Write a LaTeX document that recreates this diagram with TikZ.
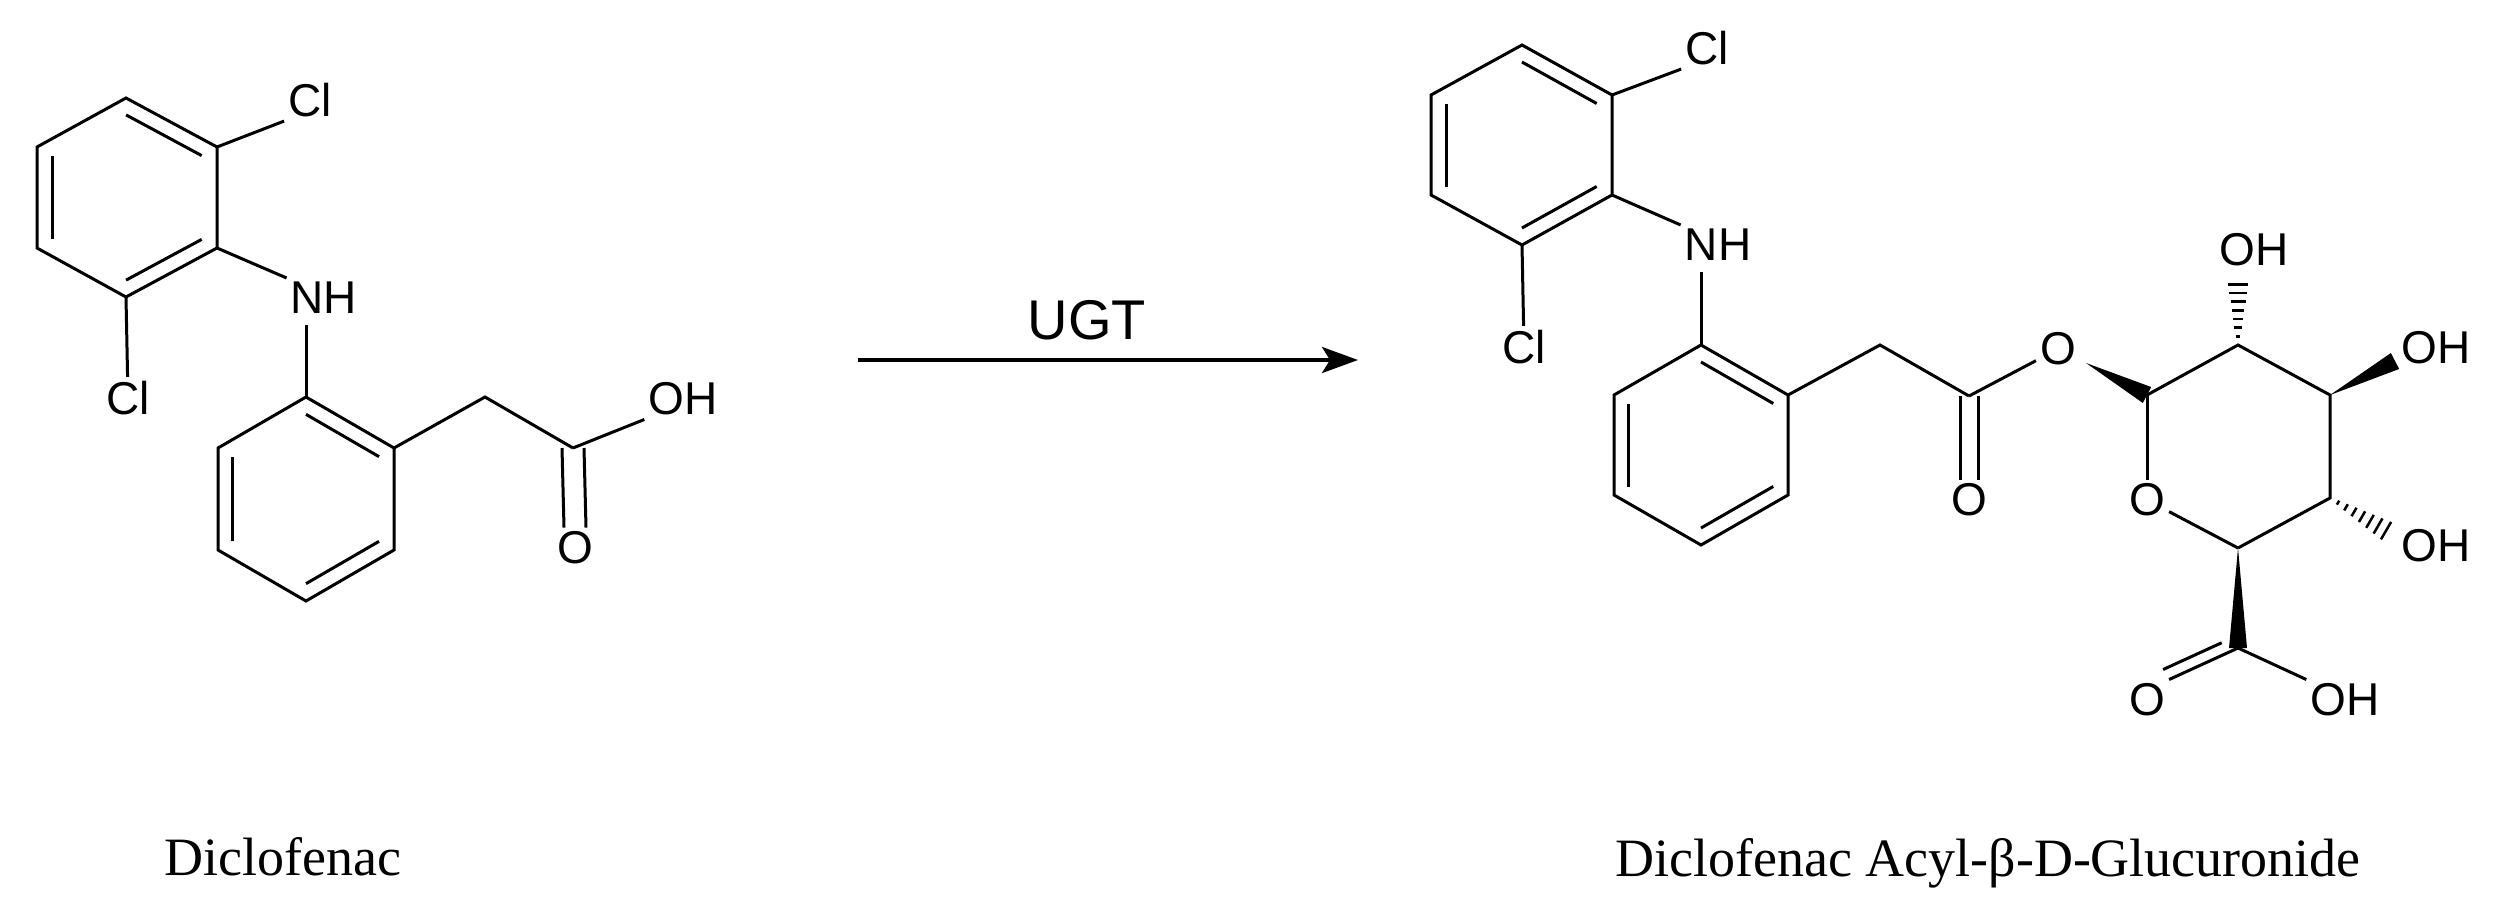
\documentclass[tikz,border=0pt]{standalone}
\usepackage{fontspec}
\setmainfont{Liberation Serif}
\newfontfamily\arialf{Liberation Sans}
\usetikzlibrary{calc,arrows.meta}
\tikzset{
  bond/.style={line width=3pt},
  atom/.style={font=\arialf\fontsize{46}{46}\selectfont, inner sep=4pt},
  captext/.style={font=\fontsize{54}{54}\selectfont, inner sep=0pt},
}
\newcommand{\inner}[3]{\draw[bond] ($(#1)!0.17!(#3)$) -- ($(#2)!0.17!(#3)$);}
\newcommand{\hashb}[2]{\foreach \i in {1,...,7}{\pgfmathsetmacro\hf{\i/7.5}\pgfmathsetmacro\hw{1+1.3*\i}\draw[line width=2.5pt] ($(#1)!\hf!(#2)$) coordinate (hp) ($(hp)!\hw pt!90:(#2)$) -- ($(hp)!\hw pt!-90:(#2)$);}}
\newcommand{\wedgeb}[2]{\fill (#1) -- ($(#2)!9pt!90:(#1)$) -- ($(#2)!9pt!-90:(#1)$) -- cycle;}
\begin{document}
\begin{tikzpicture}[x=1pt,y=-1pt]
\useasboundingbox (0,0) rectangle (2496,911);
% ---------- Diclofenac ----------
\coordinate (a1) at (126,98); \coordinate (a2) at (217,147); \coordinate (a3) at (217,248);
\coordinate (a4) at (126,297); \coordinate (a5) at (37,248); \coordinate (a6) at (37,147);
\coordinate (ac) at (126.7,197.5);
\draw[bond,line join=miter] (a1)--(a2)--(a3)--(a4)--(a5)--(a6)--cycle;
\inner{a1}{a2}{ac} \inner{a5}{a6}{ac} \inner{a3}{a4}{ac}
\node[atom] (cl1) at (310,100) {Cl};
\node[atom] (nh1) at (324,298) {NH};
\node[atom] (cl2) at (128,398) {Cl};
\draw[bond] (a2) -- (cl1.south west);
\draw[bond] (a3) -- (nh1.north west);
\draw[bond] (a4) -- (cl2);
\coordinate (b1) at (306,397); \coordinate (b2) at (394,448); \coordinate (b3) at (394,550);
\coordinate (b4) at (306,601); \coordinate (b5) at (218,550); \coordinate (b6) at (218,448);
\coordinate (bc) at (306,499);
\draw[bond] (306,325) -- (b1);
\draw[bond,line join=miter] (b1)--(b2)--(b3)--(b4)--(b5)--(b6)--cycle;
\inner{b1}{b2}{bc} \inner{b5}{b6}{bc} \inner{b3}{b4}{bc}
\coordinate (ch) at (485,397); \coordinate (cc) at (573,448);
\node[atom] (oh1) at (683,399) {OH};
\node[atom] (o1) at (575,548) {O};
\draw[bond,line join=miter] (b2)--(ch)--(cc);
\draw[bond] (cc) -- (oh1.south west);
\draw[bond] ($(cc)+(-11,0)$) -- ($(o1.north)+(-11,0)$);
\draw[bond] ($(cc)+(11,0)$) -- ($(o1.north)+(11,0)$);
\node[captext] (lab1) at (283,857) {Diclofenac};
% ---------- arrow ----------
\coordinate (ar1) at (858,360); \coordinate (ar2) at (1358,360);
\draw[line width=3.5pt,-{Stealth[length=36pt,width=26pt,inset=8pt]}] (ar1) -- (ar2);
\node[atom,font=\arialf\fontsize{56}{56}\selectfont] (ugt) at (1087,320) {UGT};
% ---------- Glucuronide ----------
\coordinate (p1) at (1522,45); \coordinate (p2) at (1612,95); \coordinate (p3) at (1612,195);
\coordinate (p4) at (1522,245); \coordinate (p5) at (1431,195); \coordinate (p6) at (1431,95);
\coordinate (pc) at (1521.7,145);
\draw[bond,line join=miter] (p1)--(p2)--(p3)--(p4)--(p5)--(p6)--cycle;
\inner{p1}{p2}{pc} \inner{p5}{p6}{pc} \inner{p3}{p4}{pc}
\node[atom] (cl3) at (1707,48) {Cl};
\node[atom] (nh2) at (1718,245) {NH};
\node[atom] (cl4) at (1524,347) {Cl};
\draw[bond] (p2) -- (cl3.south west);
\draw[bond] (p3) -- (nh2.north west);
\draw[bond] (p4) -- (cl4);
\coordinate (q1) at (1701,345); \coordinate (q2) at (1788,395); \coordinate (q3) at (1788,495);
\coordinate (q4) at (1701,545); \coordinate (q5) at (1614,495); \coordinate (q6) at (1614,395);
\coordinate (qc) at (1701,445);
\draw[bond] (1701,272) -- (q1);
\draw[bond,line join=miter] (q1)--(q2)--(q3)--(q4)--(q5)--(q6)--cycle;
\inner{q1}{q2}{qc} \inner{q5}{q6}{qc} \inner{q3}{q4}{qc}
\coordinate (ch2) at (1880,345); \coordinate (ce) at (1969,396);
\node[atom] (o2) at (1969,500) {O};
\node[atom] (oe) at (2058,349) {O};
\draw[bond,line join=miter] (q2)--(ch2)--(ce);
\draw[bond] (ce) -- (oe);
\draw[bond] ($(ce)+(-9,0)$) -- ($(o2.north)+(-9,0)$);
\draw[bond] ($(ce)+(9,0)$) -- ($(o2.north)+(9,0)$);
% sugar ring
\coordinate (s1) at (2147,395); \coordinate (s2) at (2238,345); \coordinate (s3) at (2330,395);
\coordinate (s4) at (2330,498); \coordinate (s5) at (2238,548);
\node[atom] (or) at (2147,500) {O};
\draw[bond,line join=miter] (s1)--(s2)--(s3)--(s4)--(s5);
\draw[bond] (s5) -- (or); \draw[bond] (s1) -- (or);
\coordinate (oes) at (2086,363);
\wedgeb{oes}{s1}
\node[atom] (oh2) at (2254,250) {OH};
\coordinate (h2) at (2238,280);
\hashb{s2}{h2}
\node[atom] (oh3) at (2436,348) {OH};
\coordinate (w3) at (2395,361);
\wedgeb{s3}{w3}
\node[atom] (oh4) at (2436,546) {OH};
\coordinate (h4) at (2390,533);
\hashb{s4}{h4}
\coordinate (cx) at (2238,648);
\wedgeb{s5}{cx}
\node[atom] (o3) at (2147,700) {O};
\node[atom] (oh5) at (2345,700) {OH};
\draw[bond] (cx) -- (oh5.north west);
\draw[bond] (cx) -- (o3.north east);
\draw[bond] ($(cx)!0.15!(o3.north east)+(-6,-10)$) -- ($(o3.north east)+(-6,-10)$);
\node[captext] (lab2) at (1988,863) {Diclofenac Acyl-β-D-Glucuronide};
\end{tikzpicture}
\end{document}
